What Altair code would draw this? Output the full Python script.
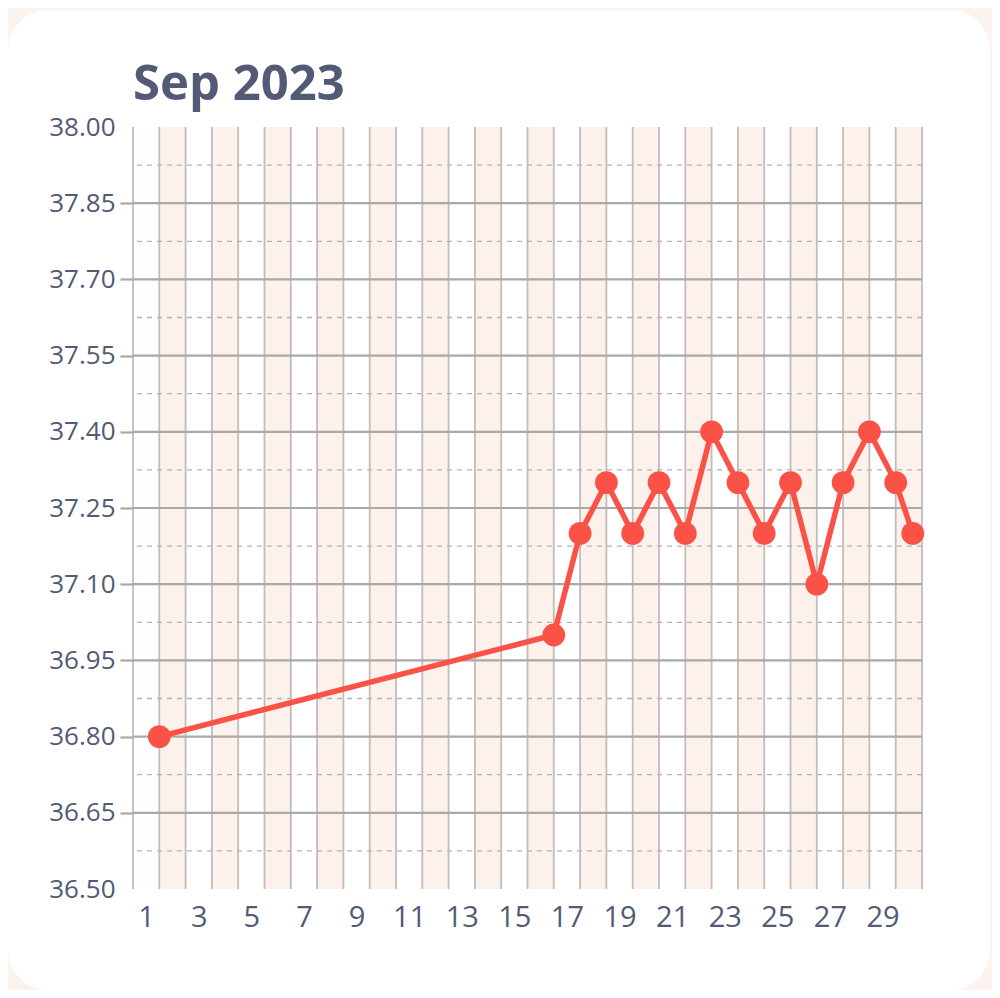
import altair as alt
import pandas as pd

# ---- data ----
day_pos = [1, 16, 17, 18, 19, 20, 21, 22, 23, 24, 25, 26, 27, 28, 29, 29.65]
temps = [36.80, 37.00, 37.20, 37.30, 37.20, 37.30, 37.20, 37.40, 37.30,
         37.20, 37.30, 37.10, 37.30, 37.40, 37.30, 37.20]
days = list(range(1, 31))
y_ticks = [36.5, 36.65, 36.8, 36.95, 37.1, 37.25, 37.4, 37.55, 37.7, 37.85, 38.0]
y_mid = [36.575, 36.725, 36.875, 37.025, 37.175, 37.325, 37.475, 37.625, 37.775, 37.925]
y_inner = [36.65, 36.8, 36.95, 37.1, 37.25, 37.4, 37.55, 37.7, 37.85]
x_label_pos = [d - 0.5 for d in range(1, 31, 2)]
boundaries = list(range(0, 31))
title_text = "Sep 2023"

FONT = "Open Sans"
TEXT = "#525a75"
RED = "#fa5246"
PEACH = "#fdf1eb"
BG = "#fdf3ee"

xs = alt.Scale(domain=[0, 30], nice=False, zero=False)
ys = alt.Scale(domain=[36.5, 38.0], nice=False, zero=False)

cols = pd.DataFrame({"start": [d - 1 for d in days], "end": days,
                     "even": [d % 2 == 0 for d in days]})
pts = pd.DataFrame({"x": day_pos, "t": temps})

card = alt.Chart(pd.DataFrame({"a": [0]})).mark_rect(
    fill="white", cornerRadius=40
).encode(x=alt.value(-125), x2=alt.value(857), y=alt.value(-117), y2=alt.value(863))

columns = alt.Chart(cols).mark_rect().encode(
    x=alt.X("start:Q", scale=xs,
            axis=alt.Axis(values=x_label_pos, labelExpr="format(datum.value + 0.5, 'd')",
                          title=None, domain=False, ticks=False, grid=False,
                          labelFontSize=29, labelColor=TEXT, labelFont=FONT,
                          labelPadding=14, zindex=1, labelFlush=False)),
    x2="end:Q",
    color=alt.condition("datum.even", alt.value(PEACH), alt.value("white")),
)

vlines = alt.Chart(pd.DataFrame({"b": boundaries})).mark_rule(
    color="#c2bcba", strokeWidth=1.8
).encode(x=alt.X("b:Q", scale=xs))

dashed = alt.Chart(pd.DataFrame({"m": y_mid})).mark_rule(
    color="#b3b3b3", strokeWidth=1.3, strokeDash=[5, 5]
).encode(y=alt.Y("m:Q", scale=ys))

solid = alt.Chart(pd.DataFrame({"s": y_inner})).mark_rule(
    color="#a9a9a9", strokeWidth=2.2
).encode(
    y=alt.Y("s:Q", scale=ys,
            axis=alt.Axis(values=y_ticks, format=".2f", title=None, domain=False,
                          grid=False, tickSize=13, tickWidth=2.2,
                          tickColor={"condition": {"test": "datum.value == 38 || datum.value == 36.5",
                                                   "value": "transparent"},
                                     "value": "#a9a9a9"},
                          labelFontSize=26, labelColor=TEXT, labelFont=FONT,
                          labelPadding=5, zindex=1, labelFlush=False)),
)

line = alt.Chart(pts).mark_line(color=RED, strokeWidth=5.5).encode(
    x=alt.X("x:Q", scale=xs), y=alt.Y("t:Q", scale=ys))
dots = alt.Chart(pts).mark_circle(color=RED, size=520, opacity=1).encode(
    x=alt.X("x:Q", scale=xs), y=alt.Y("t:Q", scale=ys))

title = alt.Chart(pd.DataFrame({"t": [title_text]})).mark_text(
    align="left", baseline="alphabetic", fontSize=49, fontWeight="bold",
    font=FONT, color=TEXT
).encode(x=alt.value(0), y=alt.value(-27), text="t:N")

chart = alt.layer(card, columns, vlines, dashed, solid, line, dots, title).properties(
    width=789, height=762,
    autosize=alt.AutoSizeParams(type="none"),
    padding={"left": 125, "top": 119, "right": 70, "bottom": 101},
    background=BG,
).configure_view(stroke="#cccccc", strokeWidth=1)

chart.save("out.html", embed_options={"renderer": "svg", "actions": False})
